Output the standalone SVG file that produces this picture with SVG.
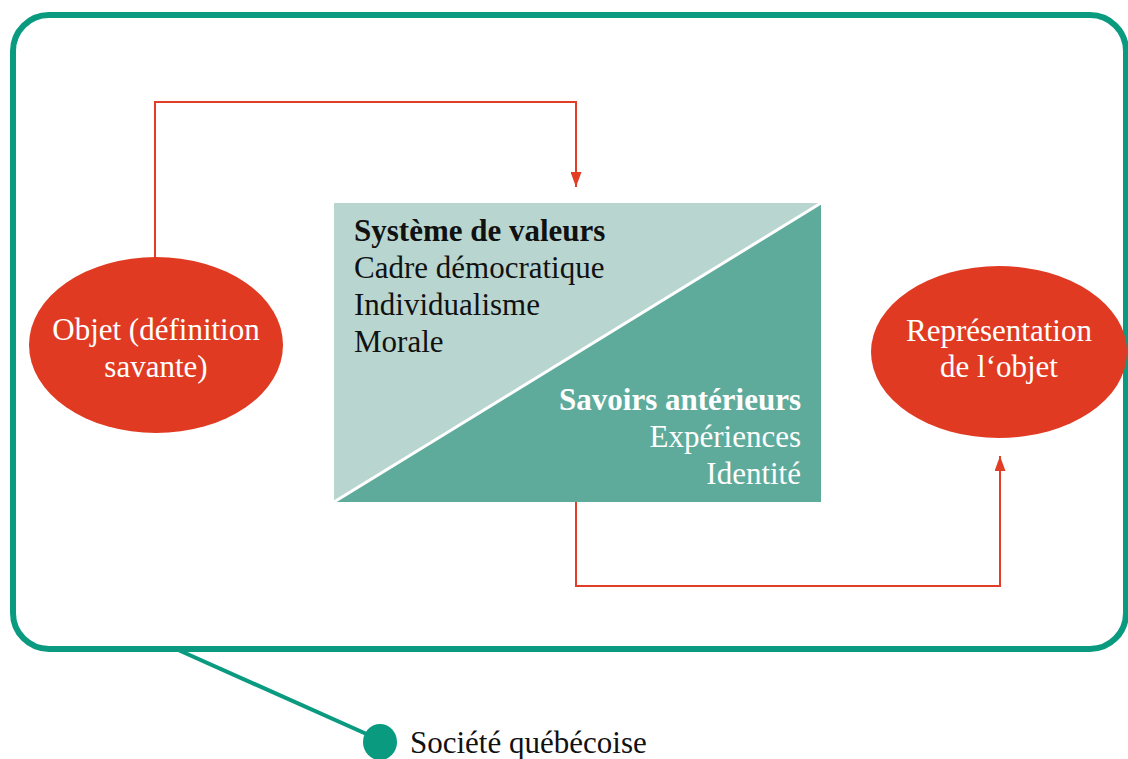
<svg xmlns="http://www.w3.org/2000/svg" width="1128" height="759" viewBox="0 0 1128 759">
  <defs>
    <marker id="arrow" viewBox="0 0 15 11" refX="15" refY="5.5" markerWidth="15" markerHeight="11" markerUnits="userSpaceOnUse" orient="auto">
      <path d="M0,0 L15,5.5 L0,11 Z" fill="#e23d25"/>
    </marker>
    <style>
      .frame { fill: none; stroke: #0a9a80; stroke-width: 6; }
      .link { fill: none; stroke: #e23d25; stroke-width: 2; }
      .oval { fill: #e03b22; }
      .t { font-family: 'Liberation Serif', 'Times New Roman', 'DejaVu Serif', serif; font-size: 31px; }
      .w { fill: #ffffff; }
      .k { fill: #111111; }
      .b { font-weight: bold; }
    </style>
  </defs>
  <rect width="1128" height="759" fill="#ffffff"/>

  <!-- outer society frame -->
  <g id="societe">
    <rect class="frame" x="13" y="15" width="1113" height="634" rx="36" ry="36"/>
    <line x1="176" y1="649" x2="380" y2="740" stroke="#0a9a80" stroke-width="4"/>
    <ellipse cx="380" cy="742" rx="17" ry="18" fill="#0a9a80"/>
    <text class="t k" x="410" y="753" font-family="Liberation Serif, serif">Société québécoise</text>
  </g>

  <!-- connectors -->
  <g id="connectors">
    <path class="link" d="M155,258 V102 H576 V187" marker-end="url(#arrow)"/>
    <path class="link" d="M576,502 V586 H1000 V456" marker-end="url(#arrow)"/>
  </g>

  <!-- left node -->
  <g id="objet">
    <ellipse class="oval" cx="156" cy="345" rx="127" ry="88"/>
    <text class="t w" x="156" y="340" text-anchor="middle">Objet (définition</text>
    <text class="t w" x="156" y="377" text-anchor="middle">savante)</text>
  </g>

  <!-- central split box -->
  <g id="filtres">
    <rect x="334" y="203" width="487" height="299" fill="#b8d6cf"/>
    <polygon points="334,502 821,203 821,502" fill="#5eab9c"/>
    <line x1="334" y1="502" x2="821" y2="203" stroke="#ffffff" stroke-width="3"/>
    <text class="t k b" x="354" y="241">Système de valeurs</text>
    <text class="t k" x="354" y="278">Cadre démocratique</text>
    <text class="t k" x="354" y="315">Individualisme</text>
    <text class="t k" x="354" y="352">Morale</text>
    <text class="t w b" x="801" y="410" text-anchor="end">Savoirs antérieurs</text>
    <text class="t w" x="801" y="447" text-anchor="end">Expériences</text>
    <text class="t w" x="801" y="484" text-anchor="end">Identité</text>
  </g>

  <!-- right node -->
  <g id="representation">
    <ellipse class="oval" cx="999" cy="352" rx="128" ry="86"/>
    <text class="t w" x="999" y="341" text-anchor="middle">Représentation</text>
    <text class="t w" x="999" y="377" text-anchor="middle">de l‘objet</text>
  </g>
</svg>
